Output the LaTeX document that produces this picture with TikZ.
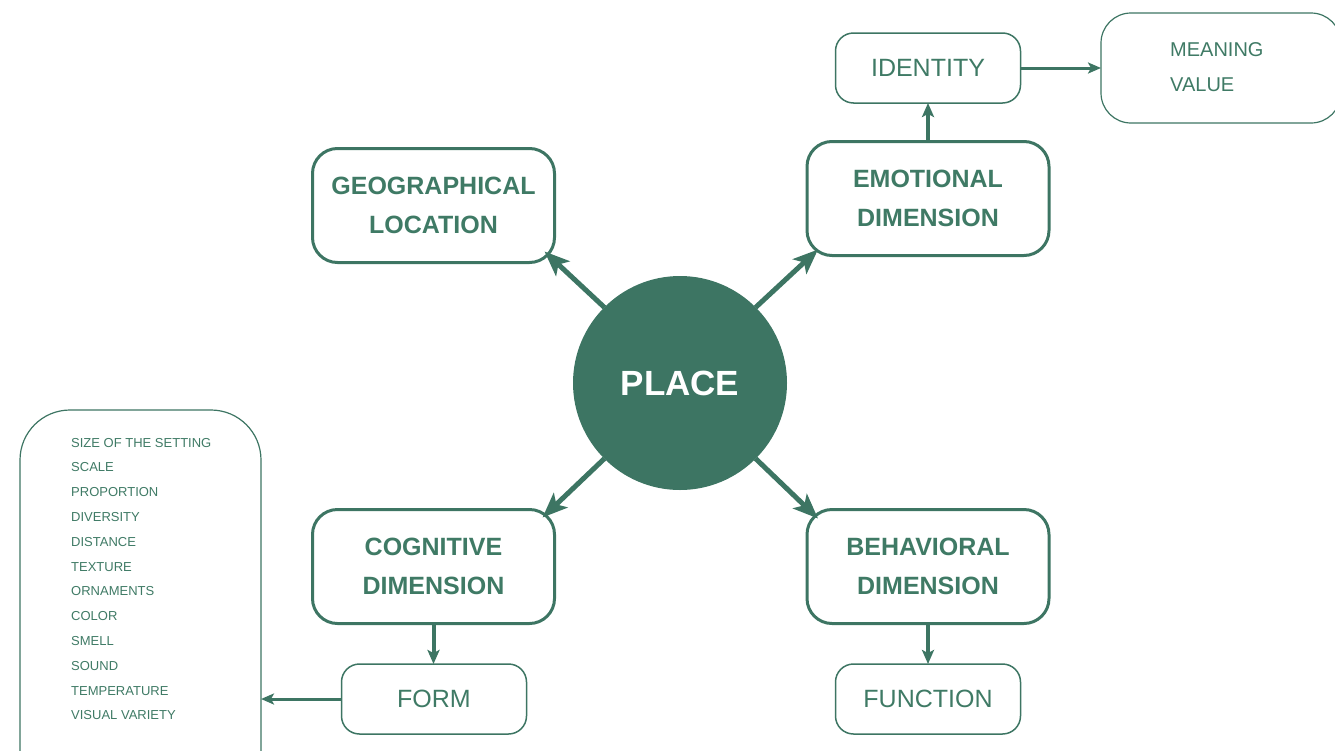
\documentclass[tikz,border=0pt]{standalone}
\usepackage{fontspec}
\setmainfont{Liberation Sans}
\usetikzlibrary{arrows.meta,calc}
\definecolor{pgreen}{HTML}{3D7563}
\definecolor{tgreen}{HTML}{3F7A65}
\tikzset{
  bigbox/.style={draw=pgreen, line width=3pt, rounded corners=25pt, minimum width=242pt, minimum height=114pt, inner sep=0pt, outer sep=0pt, align=center, text=tgreen, font=\bfseries\fontsize{25}{39.5}\selectfont},
  smallbox/.style={draw=pgreen, line width=1.5pt, rounded corners=18pt, minimum width=185pt, minimum height=70pt, inner sep=0pt, outer sep=0pt, text=tgreen, font=\fontsize{25}{30}\selectfont},
  bigarr/.style={draw=pgreen, line width=5pt, -{Stealth[length=25pt,width=20pt,inset=6pt]}},
  midarr/.style={draw=pgreen, line width=4pt, -{Stealth[length=14pt,width=12pt,inset=3pt]}},
  thinarr/.style={draw=pgreen, line width=3pt, -{Stealth[length=13pt,width=11pt,inset=3pt]}},
}
\begin{document}
\begin{tikzpicture}[x=1pt,y=-1pt]
\useasboundingbox (0,0) rectangle (1335,750);
\clip (0,0) rectangle (1335,750);
% centre
\node[circle, fill=pgreen, minimum size=214pt, inner sep=0pt, outer sep=0pt, text=white, font=\bfseries\fontsize{35}{40}\selectfont] (place) at (680,383) {PLACE};
% main boxes
\node[bigbox] (geo) at (433.5,205.5) {GEOGRAPHICAL\\LOCATION};
\node[bigbox] (emo) at (928,198.5) {EMOTIONAL\\DIMENSION};
\node[bigbox] (cog) at (433.5,566.5) {COGNITIVE\\DIMENSION};
\node[bigbox] (beh) at (928,566.5) {BEHAVIORAL\\DIMENSION};
% small boxes
\node[smallbox] (ident) at (928,68) {IDENTITY};
\node[smallbox] (form) at (434,699) {FORM};
\node[smallbox] (func) at (928,699) {FUNCTION};
% meaning box
\node[draw=pgreen, line width=1.2pt, rounded corners=30pt, minimum width=240pt, minimum height=110pt, inner sep=0pt, outer sep=0pt] (mean) at (1221,68) {};
\node[anchor=west, inner sep=0pt, align=left, text=tgreen, font=\fontsize{20}{35}\selectfont] (meantext) at (1170,67) {MEANING\\VALUE};
% list box
\node[draw=pgreen, line width=1.2pt, rounded corners=50pt, minimum width=241pt, minimum height=390pt, inner sep=0pt, outer sep=0pt] (list) at (140.5,605) {};
\node[anchor=west, inner sep=0pt, align=left, text=tgreen, font=\fontsize{13}{24.8}\selectfont] (listtext) at (71,579) {SIZE OF THE SETTING\\SCALE\\PROPORTION\\DIVERSITY\\DISTANCE\\TEXTURE\\ORNAMENTS\\COLOR\\SMELL\\SOUND\\TEMPERATURE\\VISUAL VARIETY};
% arrows from place
\draw[bigarr] (place.135) -- ($(geo.south east)+(-10,-11)$);
\draw[bigarr] (place.45) -- ($(emo.south west)+(11,-6)$);
\draw[bigarr] (place.225) -- ($(cog.north east)+(-12,8)$);
\draw[bigarr] (place.315) -- ($(beh.north west)+(11,9)$);
% vertical arrows
\draw[midarr] (emo.north) -- (ident.south);
\draw[midarr] (cog.south) -- (cog.south |- form.north);
\draw[midarr] (beh.south) -- (func.north);
% horizontal arrows
\draw[thinarr] (ident.east) -- (mean.west |- ident.east);
\draw[thinarr] (form.west) -- (list.east |- form.west);
\end{tikzpicture}
\end{document}
